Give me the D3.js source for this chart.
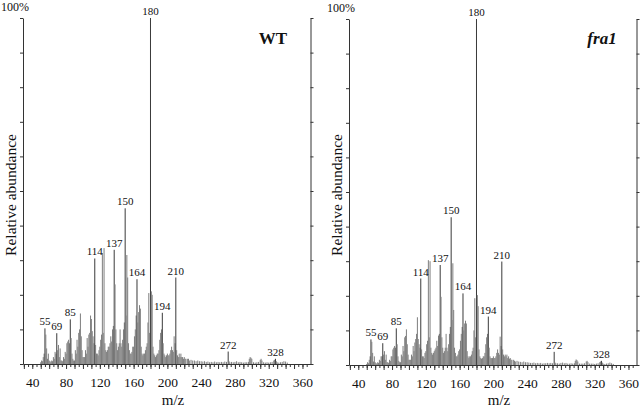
<!DOCTYPE html>
<html>
<head>
<meta charset="utf-8">
<script src="https://cdn.jsdelivr.net/npm/d3@7"></script>
<style>
body { margin: 0; background: #fff; }
svg text { font-family: "Liberation Serif", "Times New Roman", serif; fill: #111; }
</style>
</head>
<body>
<script>
var w = 640;
var h = 409;

// m/z values (shared by both spectra)
var mz = [
  50, 51, 52, 53, 54, 55, 56, 57, 58, 59,
  60, 61, 62, 63, 64, 65, 66, 67, 68, 69,
  70, 71, 72, 73, 74, 75, 76, 77, 78, 79,
  80, 81, 82, 83, 84, 85, 86, 87, 88, 89,
  90, 91, 92, 93, 94, 95, 96, 97, 98, 99,
  100, 101, 102, 103, 104, 105, 106, 107, 108, 109,
  110, 111, 112, 113, 114, 115, 116, 117, 118, 119,
  120, 121, 122, 123, 124, 125, 126, 127, 128, 129,
  130, 131, 132, 133, 134, 135, 136, 137, 138, 139,
  140, 141, 142, 143, 144, 145, 146, 147, 148, 149,
  150, 151, 152, 153, 154, 155, 156, 157, 158, 159,
  160, 161, 162, 163, 164, 165, 166, 167, 168, 169,
  170, 171, 172, 173, 174, 175, 176, 177, 178, 179,
  180, 181, 182, 183, 184, 185, 186, 187, 188, 189,
  190, 191, 192, 193, 194, 195, 196, 197, 198, 199,
  200, 201, 202, 203, 204, 205, 206, 207, 208, 209,
  210, 211, 212, 213, 214, 215, 216, 217, 218, 219,
  220, 221, 222,
  224, 225, 226, 228, 230, 232, 234, 236, 238, 240,
  242, 244, 246, 248, 250, 252, 254, 256, 258, 260,
  262, 264, 266, 268, 270, 272, 273, 274, 276, 278,
  280, 282, 284, 286, 288, 290, 292, 294, 296, 297,
  298, 299, 300, 302, 304, 306, 308, 310, 311, 312,
  314, 316, 318, 320, 322, 324, 326, 327, 328, 329,
  330, 332, 334, 336, 338, 340, 342
];

// relative abundance (%) - WT
var wt = [
  0.5, 1, 0.8, 2, 3, 10.3, 8.5, 4.5, 1.5, 3,
  1, 0.8, 0.5, 1, 0.8, 2, 1.5, 3.5, 3, 8.9,
  4, 5.5, 2, 4.5, 1, 1, 0.8, 2, 1.5, 3.5,
  3, 6, 6.5, 7, 6, 12.9, 7.5, 3, 1.5, 1,
  1, 4, 3, 7, 5, 9, 10, 14.6, 8, 4,
  2, 2, 2, 4, 3, 7.5, 5, 8.5, 9, 14,
  13, 9.5, 8, 6, 30.5, 5.5, 3, 3, 2.5, 4,
  5, 7, 8.5, 32, 9, 33.5, 6, 4, 3.5, 4,
  5, 5, 6, 8, 6.5, 10, 11, 33, 23, 10,
  6, 4, 5, 6, 10, 6, 5, 7, 10, 12,
  45, 14, 31.5, 25, 6, 4, 3, 3, 3.5, 5,
  5, 8, 10, 14, 24.5, 12, 15, 17, 16, 5,
  3, 2.5, 3, 3, 4, 5, 6, 12, 20.5, 9,
  100, 21, 20, 5, 3, 2.5, 2, 2.5, 3, 3,
  4, 7, 9, 10, 14.8, 6, 3, 2.5, 2, 2.5,
  3, 2.5, 2.5, 3, 4, 5, 4, 3.5, 8, 6,
  25, 4, 2.5, 2, 3, 2, 3, 2, 2, 1.5,
  2, 1.5, 1.5,
  1.5, 1.5, 1, 1.2, 1, 1, 0.8, 1, 0.8, 0.8,
  0.7, 0.8, 0.6, 0.7, 0.5, 0.6, 0.5, 0.7, 0.5, 0.6,
  0.5, 0.6, 0.5, 0.7, 0.6, 3.6, 0.8, 0.5, 0.6, 0.5,
  0.6, 0.8, 0.5, 0.6, 0.5, 0.4, 0.5, 0.5, 0.6, 1.5,
  2, 1.8, 1.5, 0.5, 0.4, 0.5, 0.6, 1.2, 1.5, 1,
  0.5, 0.4, 0.5, 0.4, 0.5, 0.6, 1, 1.2, 1.5, 0.8,
  0.5, 0.4, 0.5, 0.6, 0.8, 0.7, 0.4
];

// relative abundance (%) - fra1
var fra1 = [
  0.3, 0.8, 0.5, 1.5, 2.5, 7.4, 6.7, 3.5, 1, 2.5,
  0.8, 0.5, 0.4, 0.8, 0.6, 1.5, 1.2, 2.5, 2.5, 6.3,
  3, 4, 1.5, 3, 0.8, 0.8, 0.6, 1.5, 1.2, 2.5,
  2.5, 4.5, 5, 5.5, 5, 10.6, 6, 2.5, 1.2, 0.8,
  0.8, 3, 2.5, 5.5, 4, 8, 8.4, 10.3, 6, 3,
  1.5, 1.5, 1.5, 3, 2.5, 5.5, 4, 6.5, 7.5, 9,
  13.8, 7.5, 6, 5, 25, 4.5, 2.5, 2.5, 2, 3.5,
  4, 6, 7, 30.3, 8, 30, 5, 3.5, 3, 3.5,
  4, 4.5, 5, 7, 5.5, 8.5, 9, 28.9, 19.7, 8,
  5, 3.5, 4, 5, 9, 5, 4, 6, 9, 11,
  42.7, 13, 29.4, 15.9, 5, 3.5, 2.5, 2.5, 3, 4,
  4.5, 7, 9, 11, 20.7, 10, 12, 12.8, 12, 4,
  2.5, 2, 2.5, 2.5, 3, 4, 5, 10, 19.3, 8,
  100, 20.2, 17, 4.5, 2.5, 2, 1.8, 2, 2.5, 2.5,
  3.5, 6, 8, 9, 14, 5, 2.5, 2, 2, 2,
  2.5, 2, 2, 2.5, 3.5, 4.5, 3.5, 3, 8.2, 5.5,
  29.9, 4.5, 3, 2.5, 3, 2.5, 3, 2, 2.5, 1.8,
  2, 1.5, 1.5,
  1.5, 1.2, 1, 1.2, 1, 0.9, 0.8, 1, 0.8, 0.8,
  0.7, 0.6, 0.6, 0.7, 0.5, 0.6, 0.5, 0.6, 0.4, 0.5,
  0.5, 0.6, 0.5, 0.6, 0.5, 3.8, 0.7, 0.5, 0.5, 0.4,
  0.6, 0.7, 0.5, 0.6, 0.4, 0.4, 0.5, 0.4, 0.5, 1.2,
  1.6, 1.4, 1, 0.4, 0.4, 0.4, 0.5, 1, 1.2, 0.8,
  0.4, 0.4, 0.4, 0.3, 0.4, 0.5, 0.8, 1, 1.2, 0.7,
  0.4, 0.3, 0.4, 0.5, 0.7, 0.5, 0.3
];

var peakLabels = [55, 69, 85, 114, 137, 150, 164, 180, 194, 210, 272, 328];
var xTickLabels = [40, 80, 120, 160, 200, 240, 280, 320, 360];
var yTicks = [0, 10, 20, 30, 40, 50, 60, 70, 80, 90, 100];

var pw = 287.5; // panel width
var panels = [
  {name: "WT", values: wt, left: 23, top: 18, base: 364, italic: false, nameX: 273, topLabelY: 11},
  {name: "fra1", values: fra1, left: 349, top: 19, base: 365, italic: true, nameX: 602, topLabelY: 12}
];

var svg = d3.select("body")
    .append("svg")
    .attr("width", w)
    .attr("height", h);

panels.forEach(function(p) {
    var x = d3.scaleLinear().domain([29, 369.5]).range([p.left, p.left + pw]);
    var y = d3.scaleLinear().domain([0, 100]).range([p.base, p.top]);
    var g = svg.append("g");

    var data = mz.map(function(m, i) { return {m: m, v: p.values[i]}; });

    // spectrum lines
    g.selectAll("line.peak")
        .data(data)
        .enter()
        .append("line")
        .attr("class", "peak")
        .attr("x1", function(d) { return x(d.m); })
        .attr("x2", function(d) { return x(d.m); })
        .attr("y1", y(0))
        .attr("y2", function(d) { return y(d.v); })
        .attr("stroke", function(d) {
            return peakLabels.indexOf(d.m) >= 0 ? "#3a3a3a" : "#7e7e7e";
        })
        .attr("stroke-width", 1);

    // minor x ticks (every 5)
    g.append("g")
        .attr("transform", "translate(0," + p.base + ")")
        .call(d3.axisBottom(x).tickValues(d3.range(30, 370, 5)).tickSize(3).tickFormat(""))
        .call(function(a) { a.select(".domain").remove(); });

    // x axis (every 10, labels every 40)
    var xAxis = g.append("g")
        .attr("transform", "translate(0," + p.base + ")")
        .call(d3.axisBottom(x)
            .tickValues(d3.range(30, 370, 10))
            .tickSize(5)
            .tickSizeOuter(0)
            .tickPadding(8.5)
            .tickFormat(function(d) { return xTickLabels.indexOf(d) >= 0 ? d : ""; }));
    xAxis.selectAll("text")
        .attr("font-family", "Liberation Serif, serif")
        .attr("font-size", 13.5)
        .attr("fill", "#111");

    // left and right y axes
    g.append("g")
        .attr("transform", "translate(" + p.left + ",0)")
        .call(d3.axisLeft(y).tickValues(yTicks).tickSize(3).tickSizeOuter(0).tickFormat(""));
    g.append("g")
        .attr("transform", "translate(" + (p.left + pw) + ",0)")
        .call(d3.axisRight(y).tickValues(yTicks).tickSize(3).tickSizeOuter(0).tickFormat(""));

    g.selectAll(".domain, .tick line").attr("stroke", "#333");

    // peak labels
    g.selectAll("text.plabel")
        .data(data.filter(function(d) { return peakLabels.indexOf(d.m) >= 0; }))
        .enter()
        .append("text")
        .attr("class", "plabel")
        .attr("x", function(d) { return x(d.m); })
        .attr("y", function(d) { return y(d.v) - 3; })
        .attr("text-anchor", "middle")
        .attr("font-size", 11)
        .text(function(d) { return d.m; });

    g.append("text")
        .attr("x", p.left - 22)
        .attr("y", p.topLabelY)
        .attr("font-size", 12)
        .text("100%");

    g.append("text")
        .attr("transform", "translate(" + (p.left - 7) + ",195) rotate(-90)")
        .attr("text-anchor", "middle")
        .attr("font-size", 15.5)
        .text("Relative abundance");

    g.append("text")
        .attr("x", p.left + 150)
        .attr("y", 405)
        .attr("text-anchor", "middle")
        .attr("font-size", 15)
        .text("m/z");

    g.append("text")
        .attr("x", p.nameX)
        .attr("y", 44)
        .attr("text-anchor", "middle")
        .attr("font-size", 17)
        .attr("font-weight", "bold")
        .attr("font-style", p.italic ? "italic" : "normal")
        .text(p.name);
});
</script>
</body>
</html>
